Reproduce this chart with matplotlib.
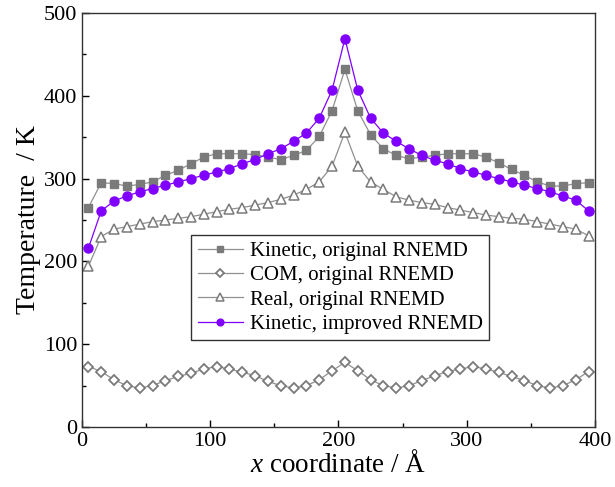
import matplotlib
matplotlib.use('Agg')
import matplotlib.pyplot as plt
from matplotlib.ticker import MultipleLocator

plt.rcParams['font.family'] = ['Liberation Serif', 'DejaVu Serif']
plt.rcParams['mathtext.fontset'] = 'custom'
plt.rcParams['mathtext.it'] = 'Liberation Serif:italic'
plt.rcParams['mathtext.rm'] = 'Liberation Serif'

# slab centres (Angstrom)
x = [5, 15, 25, 35, 45, 55, 65, 75, 85, 95,
     105, 115, 125, 135, 145, 155, 165, 175, 185, 195,
     205, 215, 225, 235, 245, 255, 265, 275, 285, 295,
     305, 315, 325, 335, 345, 355, 365, 375, 385, 395]

kinetic_orig = [265, 295, 294, 291, 293, 296, 304, 310, 318, 326,
                330, 330, 330, 329, 326, 323, 328, 334, 351, 382,
                432, 382, 353, 336, 328, 324, 326, 328, 330, 330,
                330, 326, 319, 311, 304, 296, 291, 291, 294, 295]

com_orig = [73, 67, 57, 50, 47, 50, 56, 61, 65, 70,
            73, 70, 66, 62, 55, 50, 47, 50, 57, 68,
            78, 68, 57, 50, 47, 50, 56, 62, 67, 70,
            73, 70, 66, 61, 56, 50, 47, 50, 57, 67]

real_orig = [194, 230, 239, 242, 245, 248, 250, 252, 254, 257,
             260, 263, 265, 268, 271, 275, 280, 287, 296, 315,
             356, 315, 296, 287, 278, 274, 271, 269, 265, 262,
             259, 256, 254, 252, 251, 248, 245, 242, 239, 231]

kinetic_impr = [216, 261, 273, 279, 284, 288, 292, 296, 300, 304,
                308, 312, 318, 323, 330, 336, 345, 355, 373, 407,
                469, 407, 373, 355, 345, 336, 328, 322, 318, 312,
                308, 304, 300, 296, 292, 288, 284, 279, 274, 261]

fig = plt.figure(figsize=(6.15, 4.87), dpi=100)
ax = fig.add_axes([0.1333, 0.1232, 0.8342, 0.8501])

gray = '#909090'
ax.plot(x, kinetic_orig, '-s', color=gray, mfc='#7a7a7a', mec='#7a7a7a',
        ms=5.5, lw=0.9, label='Kinetic, original RNEMD')
ax.plot(x, com_orig, '-D', color=gray, mfc='white', mec='#7a7a7a',
        ms=5, mew=1.3, lw=0.9, label='COM, original RNEMD')
ax.plot(x, real_orig, '-^', color=gray, mfc='white', mec='#7a7a7a',
        ms=7.5, mew=1.1, lw=0.9, label='Real, original RNEMD')
ax.plot(x, kinetic_impr, '-o', color='#8000ff', mfc='#8000ff', mec='#8000ff',
        ms=6.5, lw=0.9, label='Kinetic, improved RNEMD')

ax.set_xlim(0, 400)
ax.set_ylim(0, 500)
ax.xaxis.set_major_locator(MultipleLocator(100))
ax.xaxis.set_minor_locator(MultipleLocator(50))
ax.yaxis.set_major_locator(MultipleLocator(100))
ax.yaxis.set_minor_locator(MultipleLocator(50))
ax.tick_params(which='both', direction='in', top=False, right=False,
               labelsize=16, width=1)
ax.tick_params(which='major', length=5)
ax.tick_params(which='minor', length=3)
for s in ax.spines.values():
    s.set_linewidth(1)
    s.set_color('#333333')

ax.set_xlabel(r'$x$ coordinate / Å', fontsize=19.5, labelpad=0)
ax.set_ylabel('Temperature  / K', fontsize=20, labelpad=2)

leg = ax.legend(loc='lower left', bbox_to_anchor=(0.213, 0.21), fontsize=15,
                frameon=True, fancybox=False, edgecolor='black',
                markerscale=0.75, handlelength=2.2, borderpad=0.3,
                labelspacing=0.22, handletextpad=0.3, borderaxespad=0)
leg.get_frame().set_linewidth(1)

fig.savefig('out.png', dpi=100)
